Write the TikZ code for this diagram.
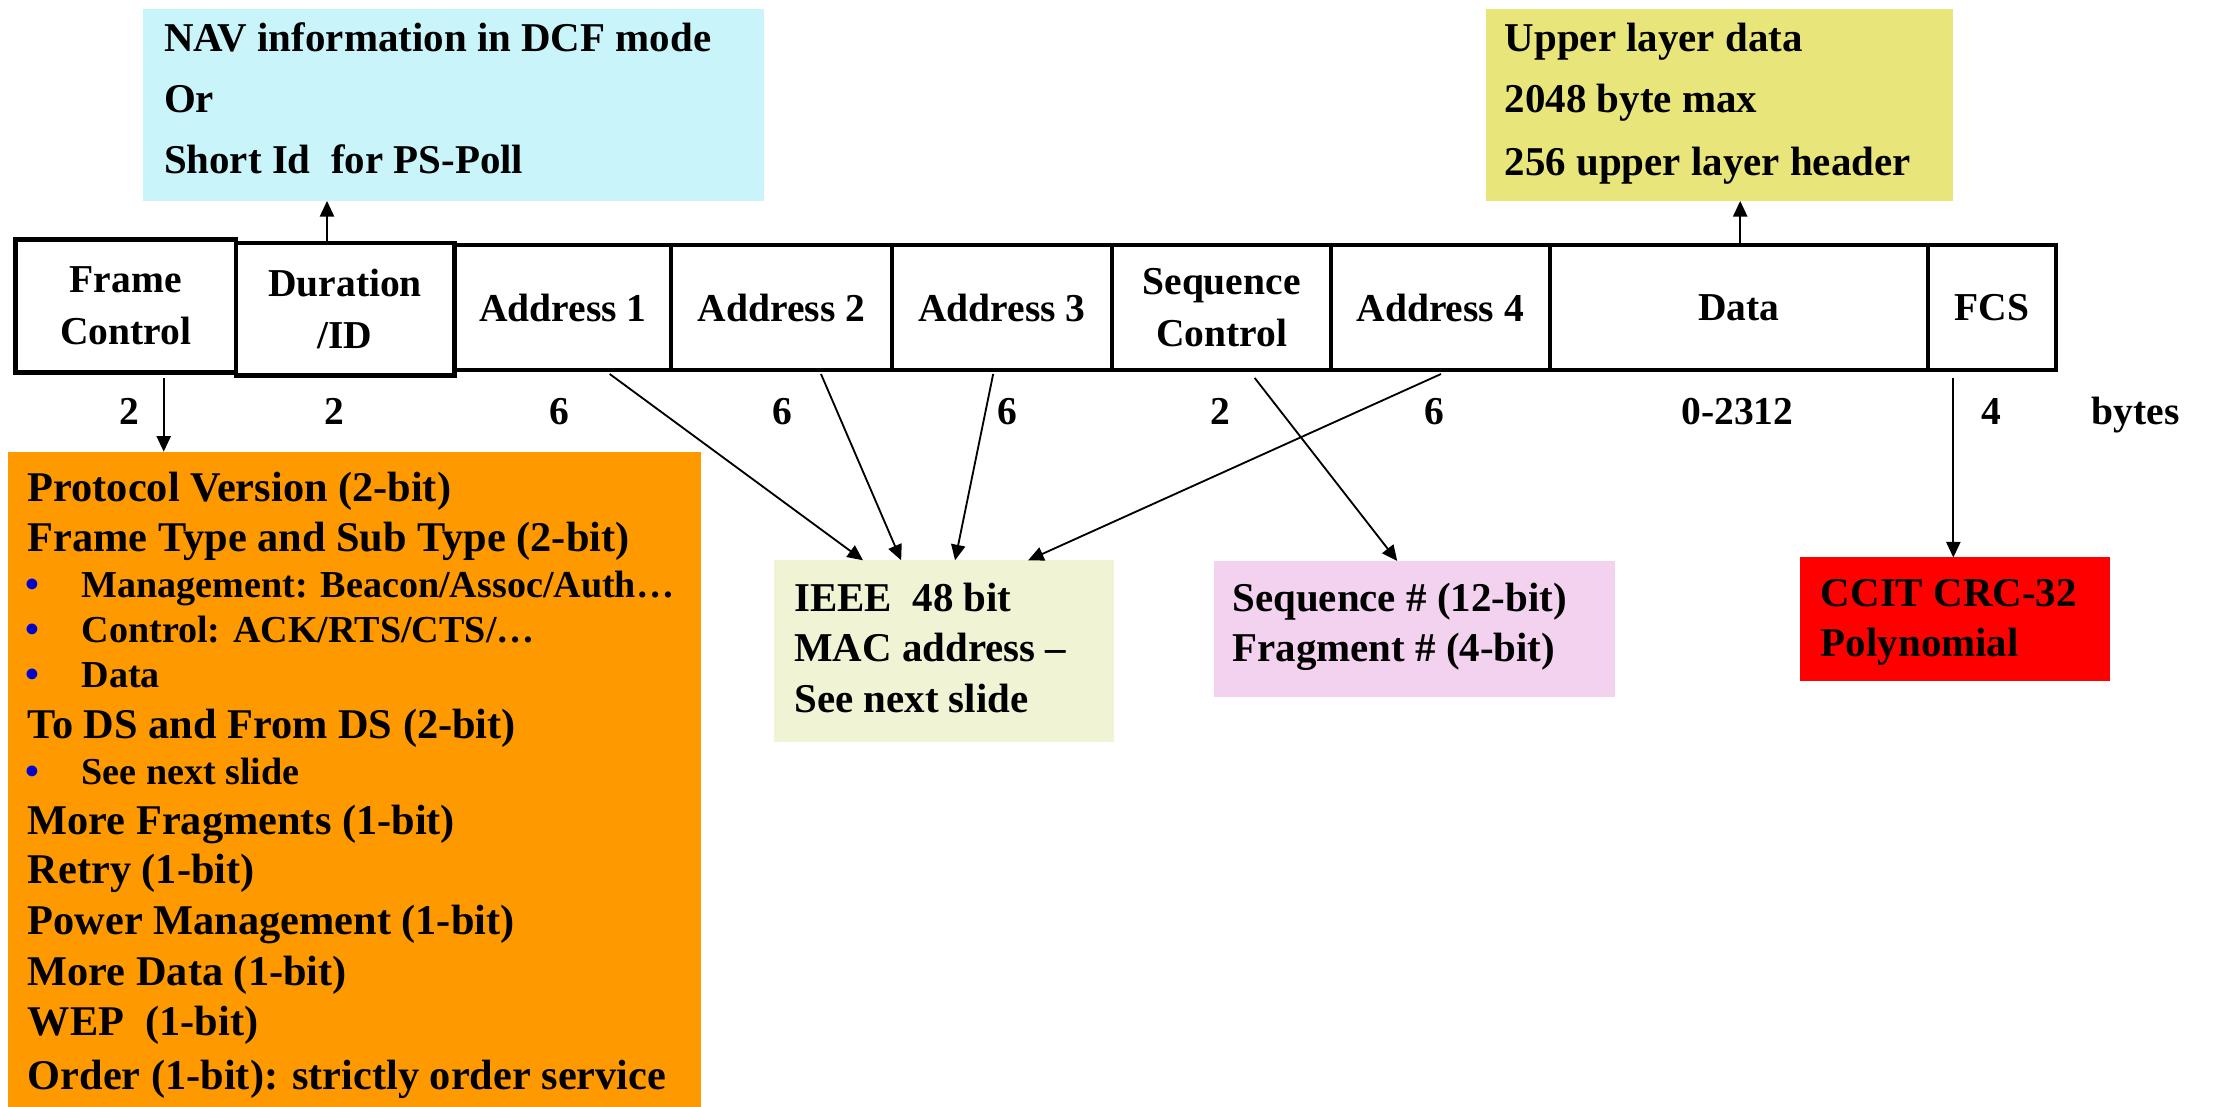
\documentclass[tikz,border=0pt]{standalone}
\usepackage{fontspec}
\setmainfont{Liberation Serif}
\usetikzlibrary{arrows.meta}

\definecolor{navbg}{RGB}{200,244,250}
\definecolor{upperbg}{RGB}{232,230,122}
\definecolor{fcbg}{RGB}{255,153,0}
\definecolor{macbg}{RGB}{240,244,212}
\definecolor{seqbg}{RGB}{242,210,238}
\definecolor{crcbg}{RGB}{255,0,0}
\definecolor{bulletblue}{RGB}{0,0,204}

\begin{document}
\begin{tikzpicture}[x=1pt,y=-1pt,
  field/.style={draw, line width=3pt, inner sep=0pt, outer sep=0pt, anchor=north west,
    align=center, font=\bfseries\fontsize{28}{37}\selectfont},
  infobox/.style={inner sep=0pt, outer sep=0pt, anchor=north west},
  txt/.style={anchor=base west, inner sep=0pt, font=\bfseries\fontsize{29}{35}\selectfont},
  mainline/.style={anchor=base west, inner sep=0pt, font=\bfseries\fontsize{30}{36}\selectfont},
  subline/.style={anchor=base west, inner sep=0pt, font=\bfseries\fontsize{27}{32}\selectfont},
  bul/.style={anchor=base west, inner sep=0pt, text=bulletblue, font=\bfseries\fontsize{28}{32}\selectfont},
  num/.style={anchor=base, inner sep=0pt, font=\bfseries\fontsize{28}{34}\selectfont},
  link/.style={line width=1.3pt, -{Triangle[length=11pt,width=10pt]}},
]
\useasboundingbox (0,0) rectangle (1568,784);

% coloured description boxes
\node[infobox, fill=navbg,   minimum width=440,   minimum height=136]   (nav)    at (101.5,6.4) {};
\node[infobox, fill=upperbg, minimum width=331,   minimum height=136]   (upper)  at (1053,6.4) {};
\node[infobox, fill=fcbg,    minimum width=491,   minimum height=465]   (fcinfo) at (6,320) {};
\node[infobox, fill=macbg,   minimum width=240.5, minimum height=129]   (mac)    at (548.5,397) {};
\node[infobox, fill=seqbg,   minimum width=284,   minimum height=96.5]  (seq)    at (860,397.5) {};
\node[infobox, fill=crcbg,   minimum width=219.5, minimum height=87.5]  (crc)    at (1275.5,395) {};

% MAC frame fields
\node[field, minimum width=153.5, minimum height=89] (a1)   at (322,173.4)  {Address 1};
\node[field, minimum width=156.5, minimum height=89] (a2)   at (475.5,173.4) {Address 2};
\node[field, minimum width=156,   minimum height=89] (a3)   at (632,173.4)  {Address 3};
\node[field, minimum width=155,   minimum height=89] (sc)   at (788,173.4)  {Sequence\\Control};
\node[field, minimum width=155,   minimum height=89] (a4)   at (943,173.4)  {Address 4};
\node[field, minimum width=268,   minimum height=89] (data) at (1098,173.4) {Data};
\node[field, minimum width=91,    minimum height=89] (fcs)  at (1366,173.4) {FCS};
\node[field, minimum width=155,   minimum height=94] (dur)  at (167,172)    {Duration\\/ID};
\node[field, minimum width=156,   minimum height=94.3] (fc) at (11,169.7)   {Frame\\Control};

% field sizes
\node[num] (n1) at (92,301)   {2};
\node[num] (n2) at (237,301)  {2};
\node[num] (n3) at (396,301)  {6};
\node[num] (n4) at (554,301)  {6};
\node[num] (n5) at (713.6,301) {6};
\node[num] (n6) at (865,301)  {2};
\node[num] (n7) at (1016.5,301) {6};
\node[num] (n8) at (1231,301) {0-2312};
\node[num] (n9) at (1411,301) {4};
\node[num, anchor=base west] (unit) at (1482,301) {bytes};

% Duration/ID description
\node[txt] (nav1) at (116,36.6) {NAV information in DCF mode};
\node[txt] (nav2) at (116,79.5) {Or};
\node[txt] (nav3) at (116,123)  {Short Id\ \ for PS-Poll};

% Data description
\node[txt] (up1) at (1066,36.6) {Upper layer data};
\node[txt] (up2) at (1066,80)   {2048 byte max};
\node[txt] (up3) at (1066,124)  {256 upper layer header};

% Frame Control sub-fields
\node[mainline] (f1) at (19.5,355) {Protocol Version (2-bit)};
\node[mainline] (f2) at (19.5,391) {Frame Type and Sub Type (2-bit)};
\node[bul] (b1) at (18,423)   {\textbullet};
\node[subline] (s1) at (57.6,423)   {Management: Beacon/Assoc/Auth…};
\node[bul] (b2) at (18,455.5) {\textbullet};
\node[subline] (s2) at (57.6,455.5) {Control: ACK/RTS/CTS/…};
\node[bul] (b3) at (18,487)   {\textbullet};
\node[subline] (s3) at (57.6,487)   {Data};
\node[mainline] (f3) at (19.5,523) {To DS and From DS (2-bit)};
\node[bul] (b4) at (18,555.5) {\textbullet};
\node[subline] (s4) at (57.6,555.5) {See next slide};
\node[mainline] (f4) at (19.5,591)   {More Fragments (1-bit)};
\node[mainline] (f5) at (19.5,626)   {Retry (1-bit)};
\node[mainline] (f6) at (19.5,662)   {Power Management (1-bit)};
\node[mainline] (f7) at (19.5,698.6) {More Data (1-bit)};
\node[mainline] (f8) at (19.5,734)   {WEP\ \ (1-bit)};
\node[mainline] (f9) at (19.5,772)   {Order (1-bit): strictly order service};

% address description
\node[txt] (m1) at (562.6,433.6) {IEEE\ \ 48 bit};
\node[txt] (m2) at (562.6,469)   {MAC address –};
\node[txt] (m3) at (562.6,504.5) {See next slide};

% sequence description
\node[txt] (q1) at (873,433.6) {Sequence \# (12-bit)};
\node[txt] (q2) at (873,469)   {Fragment \# (4-bit)};

% FCS description
\node[txt] (c1) at (1290,430)   {CCIT CRC-32};
\node[txt] (c2) at (1290,465.5) {Polynomial};

% connectors
\draw[link] ([xshift=64.7pt]dur.north west) -- ([xshift=130.2pt]nav.south west);
\draw[link] ([xshift=135pt]data.north west) -- ([xshift=180pt]upper.south west);
\draw[link] ([xshift=105pt,yshift=-4pt]fc.south west) -- ([xshift=110pt]fcinfo.north west);
\draw[link] ([xshift=110pt,yshift=-2.6pt]a1.south west) -- ([xshift=63pt]mac.north west);
\draw[link] ([xshift=106.2pt,yshift=-2.6pt]a2.south west) -- ([xshift=90pt]mac.north west);
\draw[link] ([xshift=71.7pt,yshift=-2.6pt]a3.south west) -- ([xshift=128.2pt]mac.north west);
\draw[link] ([xshift=78pt,yshift=-2.6pt]a4.south west) -- ([xshift=180pt]mac.north west);
\draw[link] ([xshift=101pt,yshift=-5.4pt]sc.south west) -- ([xshift=130pt]seq.north west);
\draw[link] ([xshift=18pt,yshift=-5.6pt]fcs.south west) -- ([xshift=108.5pt]crc.north west);
\end{tikzpicture}
\end{document}
